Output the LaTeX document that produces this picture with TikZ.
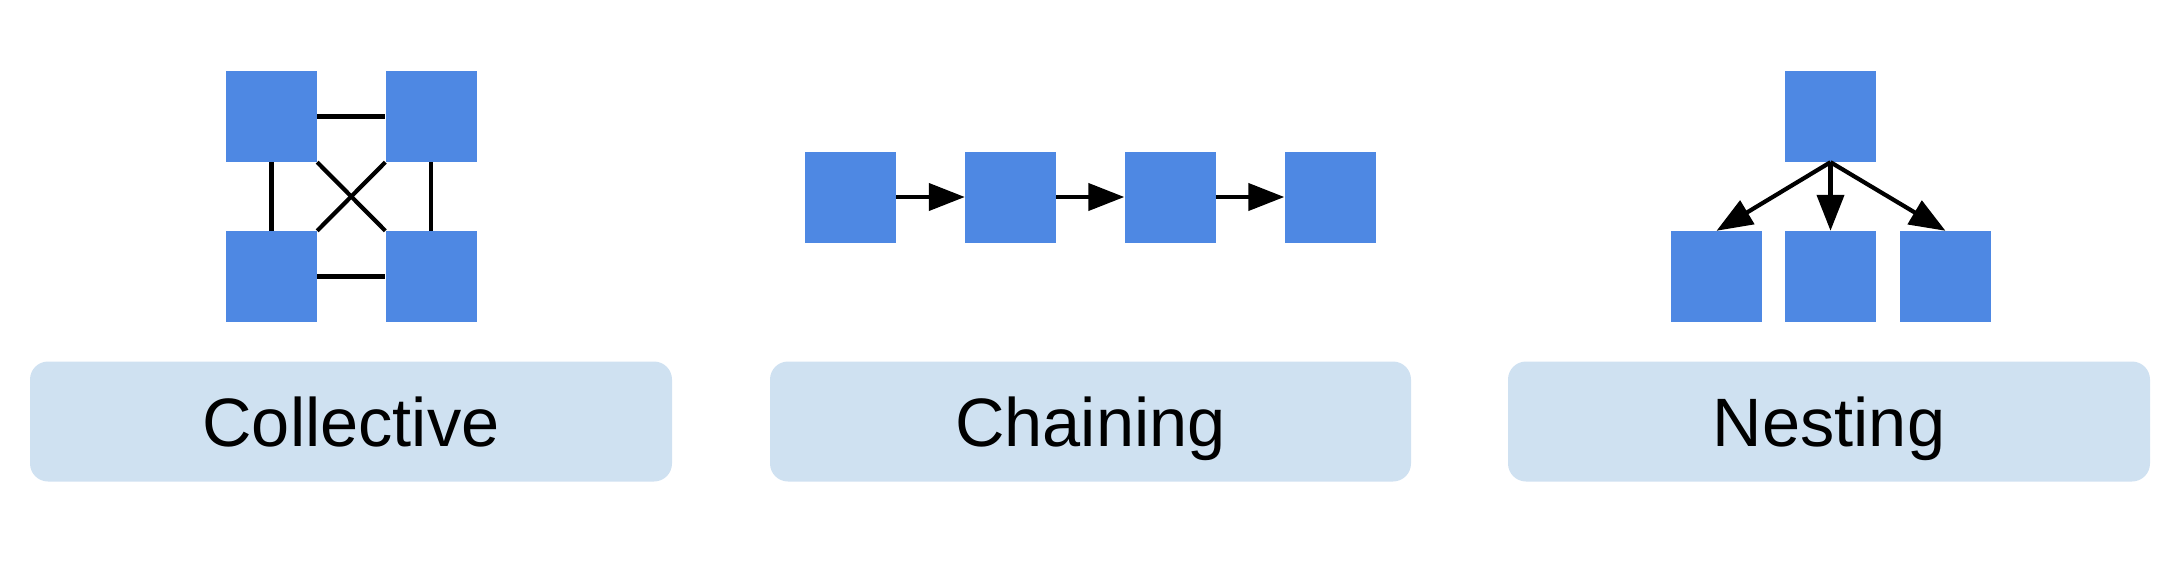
\documentclass[tikz,border=0pt]{standalone}
\usepackage{fontspec}
\setmainfont{Liberation Sans}
\usetikzlibrary{arrows.meta}
\definecolor{sqblue}{HTML}{4E88E3}
\definecolor{lblfill}{HTML}{CFE1F1}
\tikzset{
  sq/.style={rectangle, fill=sqblue, draw=none, inner sep=0pt, minimum width=91pt, minimum height=91pt},
  lbl/.style={rectangle, fill=lblfill, draw=none, rounded corners=18pt, minimum width=642pt, minimum height=120pt,
              inner sep=0pt, text height=49pt, text depth=0pt, font=\fontsize{68.5}{78}\selectfont},
  link/.style={line width=4.2pt, black},
  arr/.style={line width=4.2pt, black, -{Triangle[length=36pt,width=27pt]}}
}
\begin{document}
\begin{tikzpicture}[x=1pt,y=-1pt]
\useasboundingbox (0,0) rectangle (2180,570);
% Collective
\node[sq] (ctl) at (271.5,116.5) {};
\node[sq] (ctr) at (431,116.5) {};
\node[sq] (cbl) at (271.5,276.5) {};
\node[sq] (cbr) at (431,276.5) {};
\draw[link] (ctl.east) -- (ctr.west);
\draw[link] (cbl.east) -- (cbr.west);
\draw[link] (ctl.south) -- (cbl.north);
\draw[link] (ctr.south) -- (cbr.north);
\draw[link] (ctl.south east) -- (cbr.north west);
\draw[link] (ctr.south west) -- (cbl.north east);
\node[lbl] (lc) at (351,421.5) {Collective};
% Chaining
\node[sq] (h1) at (850.5,197) {};
\node[sq] (h2) at (1010.5,197) {};
\node[sq] (h3) at (1170,197) {};
\node[sq] (h4) at (1330,197) {};
\draw[arr] (h1.east) -- (h2.west);
\draw[arr] (h2.east) -- (h3.west);
\draw[arr] (h3.east) -- (h4.west);
\node[lbl, minimum width=641pt] (lh) at (1090.5,421.5) {Chaining};
% Nesting
\node[sq] (nt) at (1830.5,116.5) {};
\node[sq] (n1) at (1716.5,276.5) {};
\node[sq] (n2) at (1830.5,276.5) {};
\node[sq] (n3) at (1945.5,276.5) {};
\draw[arr] (nt.south) -- (n1.north);
\draw[arr] (nt.south) -- (n2.north);
\draw[arr] (nt.south) -- (n3.north);
\node[lbl] (ln) at (1829,421.5) {Nesting};
\end{tikzpicture}
\end{document}
